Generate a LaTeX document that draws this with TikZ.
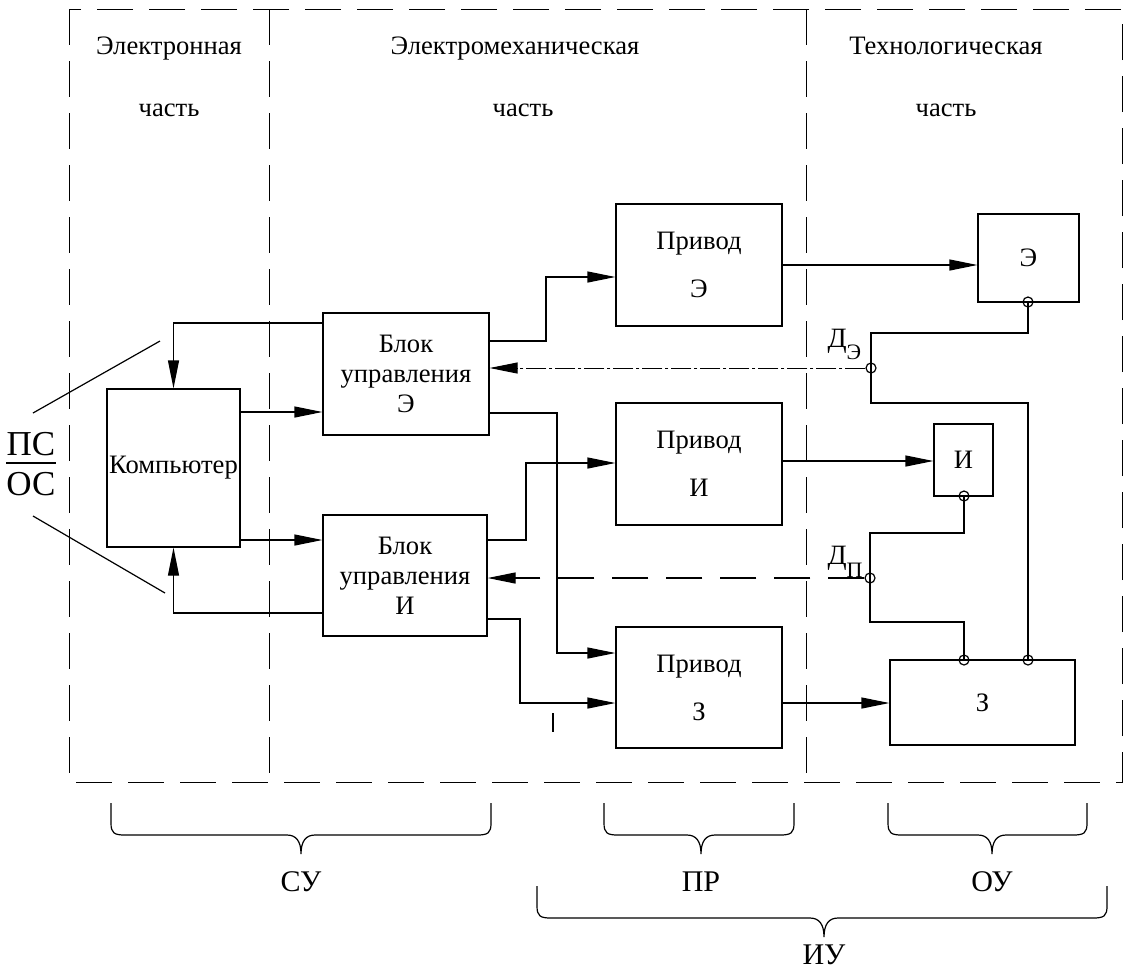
\documentclass[tikz,border=0pt]{standalone}
\usepackage{fontspec}
\setmainfont{Liberation Serif}
\usetikzlibrary{arrows.meta,calc}
\newcommand\drawbrace[5]{%
 \draw (#1,#4) -- (#1,{#5-12}) .. controls (#1,{#5-2}) and ({#1+3},#5) .. ({#1+14},#5) -- ({#3-14},#5) .. controls ({#3-5},#5) and (#3,{#5+6}) .. (#3,{#5+19}) .. controls (#3,{#5+6}) and ({#3+5},#5) .. ({#3+14},#5) -- ({#2-14},#5) .. controls ({#2-3},#5) and (#2,{#5-2}) .. (#2,{#5-12}) -- (#2,#4);}
\begin{document}
\begin{tikzpicture}[x=0.5pt,y=-0.5pt,line width=0.6pt,
  box/.style={draw,inner sep=0pt,align=center},
  arr/.style={-{Triangle[length=14pt,width=5.5pt]}},
  frm/.style={dash pattern=on 18pt off 8pt,line width=0.5pt},
  fbe/.style={dash pattern=on 10pt off 1.5pt on 1.5pt off 1.5pt,line width=0.5pt},
  fbp/.style={dash pattern=on 18pt off 9pt},
  sens/.style={circle,draw,inner sep=0pt,minimum size=5pt},
  prv/.style={box,font=\fontsize{13.3}{22}\selectfont,minimum width=83pt,minimum height=61pt},
  blk/.style={box,font=\fontsize{13.3}{15}\selectfont,minimum width=83pt,minimum height=61pt},
  txt/.style={font=\fontsize{13.3}{15}\selectfont,inner sep=0pt},
  lab/.style={font=\fontsize{15}{17}\selectfont,inner sep=0pt}
]
\useasboundingbox (0,0) rectangle (1127,976);
% frame
\draw[frm] (69,9) rectangle (1122,782);
\draw[frm] (269,9) -- (269,782);
\draw[frm] (806,9) -- (806,782);
% column titles
\node[txt,anchor=base] (t1) at (169,54) {Электронная};
\node[txt,anchor=base] (t1b) at (169,116) {часть};
\node[txt,anchor=base] (t2) at (515,54) {Электромеханическая};
\node[txt,anchor=base] (t2b) at (523,116) {часть};
\node[txt,anchor=base] (t3) at (946,54) {Технологическая};
\node[txt,anchor=base] (t3b) at (946,116) {часть};
% blocks
\node[box,font=\fontsize{13.3}{15}\selectfont,minimum width=66.5pt,minimum height=79pt] (comp) at (173.5,468) {Компьютер};
\node[blk] (bue) at (406,374) {Блок\\управления\\Э};
\node[blk,minimum width=82pt,minimum height=60.5pt] (bui) at (405,575.5) {Блок\\управления\\И};
\node[prv] (pe) at (699,265) {Привод\\[2pt]Э};
\node[prv] (pi) at (699,464) {Привод\\[2pt]И};
\node[prv,minimum height=60.5pt] (pz) at (699,687.5) {Привод\\[2pt]З};
\node[box,font=\fontsize{13.3}{15}\selectfont,minimum width=50.5pt,minimum height=44pt] (oe) at (1028.5,258) {Э};
\node[box,font=\fontsize{13.3}{15}\selectfont,minimum width=29.5pt,minimum height=36pt] (oi) at (963.5,460) {И};
\node[box,font=\fontsize{13.3}{15}\selectfont,minimum width=92.5pt,minimum height=42.5pt] (oz) at (982.5,702.5) {З};
% sensor circles
\node[sens] (ce) at (1028,302) {};
\node[sens] (ci) at (964,496) {};
\node[sens] (de) at (871,368) {};
\node[sens] (dp) at (870,578) {};
\node[sens] (cz1) at (964,660) {};
\node[sens] (cz2) at (1028,660) {};
\node[anchor=base west,inner sep=0pt,font=\fontsize{14}{16}\selectfont] (lde) at (827,347) {Д\raisebox{-6pt}{\fontsize{11}{11}\selectfont Э}};
\node[anchor=base west,inner sep=0pt,font=\fontsize{14}{16}\selectfont] (ldp) at (827,564) {Д\raisebox{-6.5pt}{\fontsize{11}{11}\selectfont П}};
% sensor wiring
\draw (ce.center) -- (ce.center |- 0,333) -| (de.center);
\draw (de.center) -- (de.center |- 0,403) -| (cz2.center);
\draw (ci.center) -- (ci.center |- 0,533) -| (dp.center);
\draw (dp.center) -- (dp.center |- 0,622) -| (cz1.center);
% feedback lines
\draw[fbe,arr] (de.west) -- (bue.east |- de.west);
\draw[fbp,arr] (dp.west) -- (bui.east |- dp.west);
% computer connections
\draw[arr] (comp.east |- 0,412) -- (bue.west |- 0,412);
\draw[arr] (comp.east |- 0,540) -- (bui.west |- 0,540);
\draw[arr] (bue.west |- 0,323) -| (comp.north);
\draw[arr] (bui.west |- 0,613) -| (comp.south);
% control units to drives
\draw[arr] (bue.east |- 0,341) -- (546,341) |- (pe.west |- 0,277);
\draw[arr] (bue.east |- 0,413) -- (557,413) |- (pz.west |- 0,653);
\draw[arr] (bui.east |- 0,540) -- (526,540) |- (pi.west |- 0,463);
\draw[arr] (bui.east |- 0,619) -- (520,619) |- (pz.west |- 0,703);
\draw (553,713) -- (553,732);
% drives to objects
\draw[arr] (pe.east |- 0,265) -- (oe.west |- 0,265);
\draw[arr] (pi.east |- 0,461) -- (oi.west |- 0,461);
\draw[arr] (pz.east |- 0,703) -- (oz.west |- 0,703);
% ПС/ОС
\node[anchor=base,inner sep=0pt,font=\fontsize{17.5}{19}\selectfont] (ps) at (31,455) {ПС};
\node[anchor=base,inner sep=0pt,font=\fontsize{17.5}{19}\selectfont] (os) at (31,495) {ОС};
\draw ([yshift=-4pt]ps.base west) -- ([yshift=-4pt]ps.base east);
\draw (33,413) -- (160,341);
\draw (33,516) -- (165,593);
% braces
\drawbrace{111}{491}{301}{803}{835}
\drawbrace{604}{794}{701}{803}{835}
\drawbrace{888}{1087}{992}{803}{835}
\drawbrace{537}{1107}{824}{886}{918}
\node[lab] (su) at (301,882) {СУ};
\node[lab] (pr) at (701,882) {ПР};
\node[lab] (ou) at (992,882) {ОУ};
\node[lab] (iu) at (824,955) {ИУ};
\end{tikzpicture}
\end{document}
